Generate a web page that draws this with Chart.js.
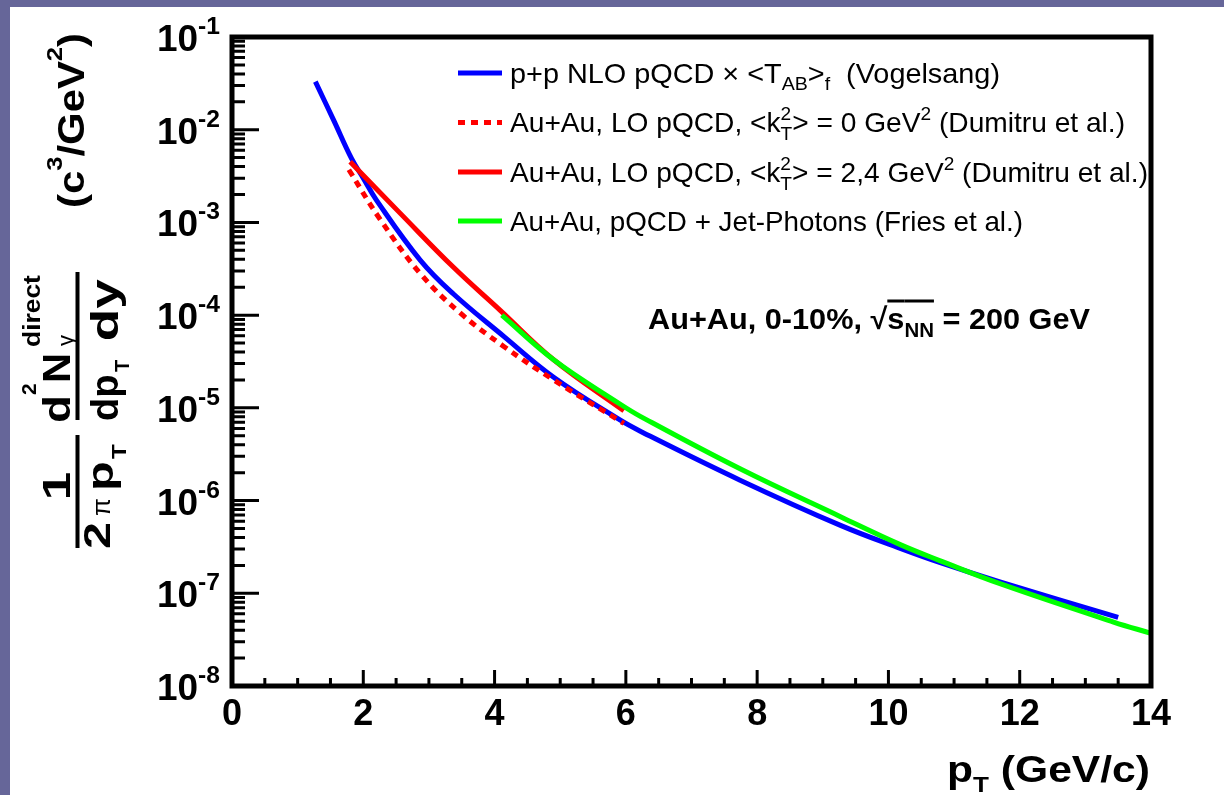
<!DOCTYPE html>
<html><head><meta charset="utf-8">
<script src="https://cdn.jsdelivr.net/npm/chart.js@4.4.0/dist/chart.umd.min.js"></script>
<style>
html,body{margin:0;padding:0;background:#666699;width:1224px;height:795px;overflow:hidden}
#wrap{position:absolute;left:10px;top:7px;width:1214px;height:788px;background:#fff}
canvas{display:block}
</style></head><body><div id="wrap"><canvas id="c" width="1214" height="788"></canvas></div>
<script>
// ---- data ----
const ppX  = [1.27, 1.55, 1.82, 2.0, 2.2, 2.87, 3.37, 4.14, 4.9, 5.91, 6.22, 7.74, 9.27, 10.18, 10.79, 11.71, 13.5];
const ppY  = [3.3e-2, 1.26e-2, 4.9e-3, 3.0e-3, 1.74e-3, 3.9e-4, 1.7e-4, 5.9e-5, 2.14e-5, 7.4e-6, 5.6e-6, 1.66e-6, 5.4e-7, 3.05e-7, 2.14e-7, 1.32e-7, 5.5e-8];
const lo0X = [1.78, 2.26, 2.87, 3.48, 4.14, 4.9, 5.97];
const lo0Y = [3.7e-3, 1.07e-3, 2.8e-4, 1.05e-4, 4.6e-5, 2.0e-5, 6.8e-6];
const lo24X = [1.80, 2.56, 3.37, 4.09, 4.9, 5.97];
const lo24Y = [4.5e-3, 1.26e-3, 3.3e-4, 1.12e-4, 3.3e-5, 9.3e-6];
const jetX = [4.11, 4.9, 5.91, 6.22, 7.74, 9.27, 10.18, 10.79, 11.71, 13.43, 14.0];
const jetY = [1.0e-4, 3.3e-5, 1.1e-5, 8.1e-6, 2.2e-6, 6.7e-7, 3.35e-7, 2.24e-7, 1.26e-7, 4.9e-8, 3.7e-8];
const xTicks = [0, 2, 4, 6, 8, 10, 12, 14];
const yExponents = [-8, -7, -6, -5, -4, -3, -2, -1];
const seriesNames = [
  'p+p NLO pQCD × <T_AB>_f (Vogelsang)',
  'Au+Au, LO pQCD, <k_T^2> = 0 GeV^2 (Dumitru et al.)',
  'Au+Au, LO pQCD, <k_T^2> = 2,4 GeV^2 (Dumitru et al.)',
  'Au+Au, pQCD + Jet-Photons (Fries et al.)'
];
const annotation = ['Au+Au, 0-10%, ', '√', 's', 'NN', ' = 200 GeV'];

const SANS = '"Liberation Sans", Arial, Helvetica, sans-serif';
const X0 = 10, Y0 = 7;
const cx = x => x - X0, cy = y => y - Y0;
const pts = (xs, ys) => xs.map((x, i) => ({x, y: ys[i]}));

function fnt(r){ return (r.b ? 'bold ' : '') + r.s + 'px ' + (r.f || SANS); }
function runW(ctx, r){
  if (r.stack){ let m = 0; for (const q of r.stack){ ctx.font = fnt(q); m = Math.max(m, ctx.measureText(q.t).width); } return m; }
  ctx.font = fnt(r); return ctx.measureText(r.t).width;
}
function drawRuns(ctx, runs, x, y, o = {}){
  ctx.save(); ctx.translate(x, y); if (o.rotate) ctx.rotate(-Math.PI/2);
  let nat = 0; for (const r of runs) nat += runW(ctx, r);
  const sx = o.width ? o.width / nat : (o.stretch || 1);
  ctx.scale(sx, 1);
  let p = o.align === 'right' ? -nat : o.align === 'center' ? -nat/2 : 0;
  ctx.textAlign = 'left'; ctx.textBaseline = 'alphabetic'; ctx.fillStyle = o.color || '#000';
  for (const r of runs){
    const w = runW(ctx, r);
    for (const q of (r.stack || [r])){ ctx.font = fnt(q); ctx.fillText(q.t, p, q.dy || 0); }
    if (r.over !== undefined) ctx.fillRect(p, r.over - 1.5, w, 3);
    p += w;
  }
  ctx.restore();
}

const legendRuns = [
  [{t:'p+p NLO pQCD × <T',s:28},{t:'AB',s:19,dy:7},{t:'>',s:28},{t:'f',s:19,dy:7},{t:'  (Vogelsang)',s:28}],
  [{t:'Au+Au, LO pQCD, <k',s:28},{stack:[{t:'2',s:19,dy:-12},{t:'T',s:19,dy:8}]},{t:'> = 0 GeV',s:28},{t:'2',s:19,dy:-12},{t:' (Dumitru et al.)',s:28}],
  [{t:'Au+Au, LO pQCD, <k',s:28},{stack:[{t:'2',s:19,dy:-12},{t:'T',s:19,dy:8}]},{t:'> = 2,4 GeV',s:28},{t:'2',s:19,dy:-12},{t:' (Dumitru et al.)',s:28}],
  [{t:'Au+Au, pQCD + Jet-Photons (Fries et al.)',s:28}]
];
const legendRowY = [73, 122.5, 172, 221];
const legendWidths = [490, 615, 638, 513];

const deco = {
  id: 'deco',
  afterDatasetsDraw(chart){
    const ctx = chart.ctx, a = chart.chartArea, xs = chart.scales.x, ys = chart.scales.y;
    ctx.save();
    ctx.strokeStyle = '#000'; ctx.lineCap = 'butt';
    ctx.lineWidth = 3;
    ctx.beginPath();
    for (const e of yExponents.concat([-9])){
      for (let m = 1; m <= 9; m++){
        const v = m * Math.pow(10, e);
        if (v < 1e-8 - 1e-20 || v > 1e-1 + 1e-12) continue;
        const p = ys.getPixelForValue(v);
        const len = m === 1 ? 27 : 13;
        ctx.moveTo(a.left, p); ctx.lineTo(a.left + len, p);
      }
    }
    for (let v = 0; v <= 14.001; v += 0.5){
      const p = xs.getPixelForValue(v);
      const len = Math.abs(v/2 - Math.round(v/2)) < 1e-6 ? 16 : 8;
      ctx.moveTo(p, a.bottom); ctx.lineTo(p, a.bottom - len);
    }
    ctx.stroke();
    ctx.lineWidth = 5;
    ctx.strokeRect(a.left, a.top, a.right - a.left, a.bottom - a.top);
    ctx.restore();
  },
  afterDraw(chart){
    const ctx = chart.ctx, xs = chart.scales.x, ys = chart.scales.y;
    for (const e of yExponents){
      const p = ys.getPixelForValue(Math.pow(10, e));
      drawRuns(ctx, [{t:'10',s:36,b:1},{t:String(e),s:24,b:1,dy:-17}], cx(220), p + 14, {align:'right', width:63});
    }
    for (const v of xTicks){
      drawRuns(ctx, [{t:String(v),s:36,b:1}], xs.getPixelForValue(v), cy(725), {align:'center'});
    }
    drawRuns(ctx, [{t:'p',s:36,b:1},{t:'T',s:22,b:1,dy:10},{t:' (GeV/c)',s:36,b:1}], cx(1150), cy(782), {align:'right', width:203});
    const R = (runs, x, y, o) => drawRuns(ctx, runs, cx(x), cy(y), Object.assign({rotate:true}, o));
    R([{t:'(c',s:36,b:1},{t:'3',s:22,b:1,dy:-22},{t:'/GeV',s:36,b:1},{t:'2',s:22,b:1,dy:-22},{t:')',s:36,b:1}], 84, 208, {width:175});
    ctx.fillStyle = '#000';
    ctx.fillRect(cx(75.5), cy(435), 4, 113);
    ctx.fillRect(cx(75.5), cy(272), 4, 148);
    R([{t:'1',s:38,b:1}], 70, 486, {align:'center', stretch:1.35});
    R([{t:'2',s:36,b:1}], 110, 549, {stretch:1.35});
    R([{t:'π',s:26}], 110, 516, {});
    R([{t:'p',s:36,b:1}], 113, 491, {stretch:1.35});
    R([{t:'T',s:20,b:1}], 126, 459, {stretch:1.2});
    R([{t:'d',s:38,b:1}], 70, 423, {stretch:1.2});
    R([{t:'2',s:21,b:1}], 36, 395, {});
    R([{t:'N',s:38,b:1}], 70, 383, {stretch:1.1});
    R([{t:'direct',s:24,b:1}], 40, 347, {stretch:1.1});
    R([{t:'γ',s:22}], 73, 346, {});
    R([{t:'dp',s:38,b:1}], 118, 421, {});
    R([{t:'T',s:20,b:1}], 129, 372, {});
    R([{t:' dy',s:38,b:1}], 118, 356, {stretch:1.4});
    drawRuns(ctx, [{t:annotation[0],s:30,b:1},{t:annotation[1],s:30,b:1},{t:annotation[2],s:30,b:1,over:-28},{t:annotation[3],s:20,b:1,dy:8,over:-28},{t:annotation[4],s:30,b:1}], cx(648), cy(329), {width:442});
    chart.data.datasets.forEach((ds, i) => {
      const y = cy(legendRowY[i]);
      ctx.save();
      ctx.strokeStyle = ds.borderColor; ctx.lineWidth = 5; ctx.setLineDash(ds.borderDash || []);
      ctx.beginPath(); ctx.moveTo(cx(458), y); ctx.lineTo(cx(502), y); ctx.stroke();
      ctx.restore();
      drawRuns(ctx, legendRuns[i], cx(510), y + 9.5, {width: legendWidths[i]});
    });
  }
};

const common = {borderWidth:5, pointRadius:0, fill:false, tension:0.4};
new Chart(document.getElementById('c'), {
  type: 'line',
  data: { datasets: [
    Object.assign({label: seriesNames[0], data: pts(ppX, ppY), borderColor:'#0000ff', order:3}, common),
    Object.assign({label: seriesNames[1], data: pts(lo0X, lo0Y), borderColor:'#ff0000', borderDash:[7,6], order:2}, common),
    Object.assign({label: seriesNames[2], data: pts(lo24X, lo24Y), borderColor:'#ff0000', order:1}, common),
    Object.assign({label: seriesNames[3], data: pts(jetX, jetY), borderColor:'#00ff00', order:0}, common)
  ]},
  options: {
    responsive:false, animation:false, devicePixelRatio:1,
    layout: {padding:{top:30, right:73, left:0, bottom:0}},
    plugins: {legend:{display:false}, tooltip:{enabled:false}},
    scales: {
      x: {type:'linear', min:0, max:14, grid:{display:false}, border:{display:false}, ticks:{display:false},
          afterFit: s => { s.height = 109; }},
      y: {type:'logarithmic', min:1e-8, max:1e-1, grid:{display:false}, border:{display:false}, ticks:{display:false},
          afterFit: s => { s.width = 222; }}
    }
  },
  plugins: [deco]
});
</script></body></html>
